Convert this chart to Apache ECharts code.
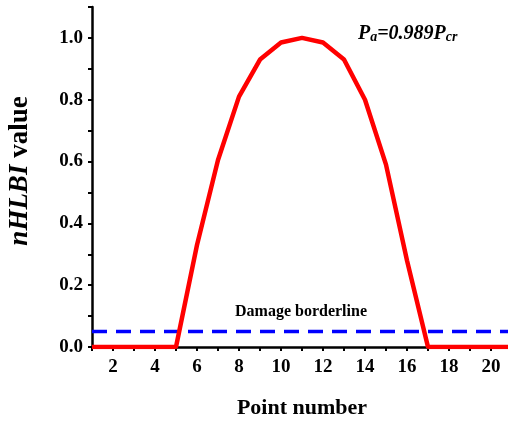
<!DOCTYPE html>
<html><head><meta charset="utf-8">
<script src="https://cdn.jsdelivr.net/npm/echarts@6/dist/echarts.min.js"></script>
<style>html,body{margin:0;padding:0;background:#fff}#c{width:508px;height:426px}</style>
</head><body><div id="c"></div>
<script>
const pointNumbers = [1,2,3,4,5,6,7,8,9,10,11,12,13,14,15,16,17,18,19,20,21];
const nhlbiValues = [0,0,0,0,0,0.33,0.605,0.81,0.93,0.985,1.0,0.985,0.93,0.80,0.59,0.28,0,0,0,0,0];
const borderlineValue = 0.05;
const xLabelValues = [2,4,6,8,10,12,14,16,18,20];
const yLabelValues = [0.0,0.2,0.4,0.6,0.8,1.0];

const font = 'Liberation Serif, Times New Roman, serif';
const chart = echarts.init(document.getElementById('c'), null, {renderer:'canvas'});
chart.setOption({
  animation:false,
  grid:{left:92,right:-4,top:7,bottom:79,containLabel:false,outerBoundsMode:'none'},
  xAxis:{
    type:'value',min:1,max:21,interval:1,
    name:'Point number',nameLocation:'middle',nameGap:50,
    nameTextStyle:{fontFamily:font,fontWeight:'bold',fontSize:22,color:'#000'},
    axisLine:{show:true,lineStyle:{color:'#000',width:2.5}},
    axisTick:{show:true,inside:false,length:4,lineStyle:{color:'#000',width:2}},
    axisLabel:{interval:0,margin:11,fontFamily:font,fontWeight:'bold',fontSize:19,color:'#000',
      formatter:v=>xLabelValues.includes(Math.round(v))?String(Math.round(v)):''},
    splitLine:{show:false}
  },
  yAxis:{
    type:'value',min:0,max:1.1,interval:0.1,
    name:'{i|nHLBI} value',nameLocation:'middle',nameGap:58,nameRotate:90,
    nameTextStyle:{fontFamily:font,fontWeight:'bold',fontSize:27,color:'#000',padding:[0,0,0,12],
      rich:{i:{fontFamily:font,fontWeight:'bold',fontStyle:'italic',fontSize:27,color:'#000'}}},
    axisLine:{show:true,lineStyle:{color:'#000',width:2.5}},
    axisTick:{show:true,inside:false,length:4,lineStyle:{color:'#000',width:2}},
    axisLabel:{interval:0,margin:9,fontFamily:font,fontWeight:'bold',fontSize:19,color:'#000',
      formatter:v=>{const k=Math.round(v*10);const f=k/10;return yLabelValues.some(y=>Math.abs(y-f)<1e-9)?f.toFixed(1):'';}},
    splitLine:{show:false}
  },
  series:[
    {type:'line',data:pointNumbers.map((x,i)=>[x,borderlineValue]),symbol:'none',
      lineStyle:{color:'#0000ff',width:3.5,type:[15,9]},z:2},
    {type:'line',data:pointNumbers.map((x,i)=>[x,nhlbiValues[i]]),symbol:'none',
      lineStyle:{color:'#ff0000',width:4.5},z:3}
  ],
  graphic:[
    {type:'text',left:235,top:304,style:{text:'Damage borderline',font:'bold 16px '+font,fill:'#000'}},
    {type:'text',left:358,top:24,style:{
      text:'{p|P}{s|a}{p|=0.989}{p|P}{s|cr}',
      rich:{
        p:{fontFamily:font,fontWeight:'bold',fontStyle:'italic',fontSize:20,fill:'#000',verticalAlign:'bottom'},
        s:{fontFamily:font,fontWeight:'bold',fontStyle:'italic',fontSize:14,fill:'#000',verticalAlign:'bottom',padding:[8,0,0,0]}
      }}}
  ]
});
</script></body></html>
